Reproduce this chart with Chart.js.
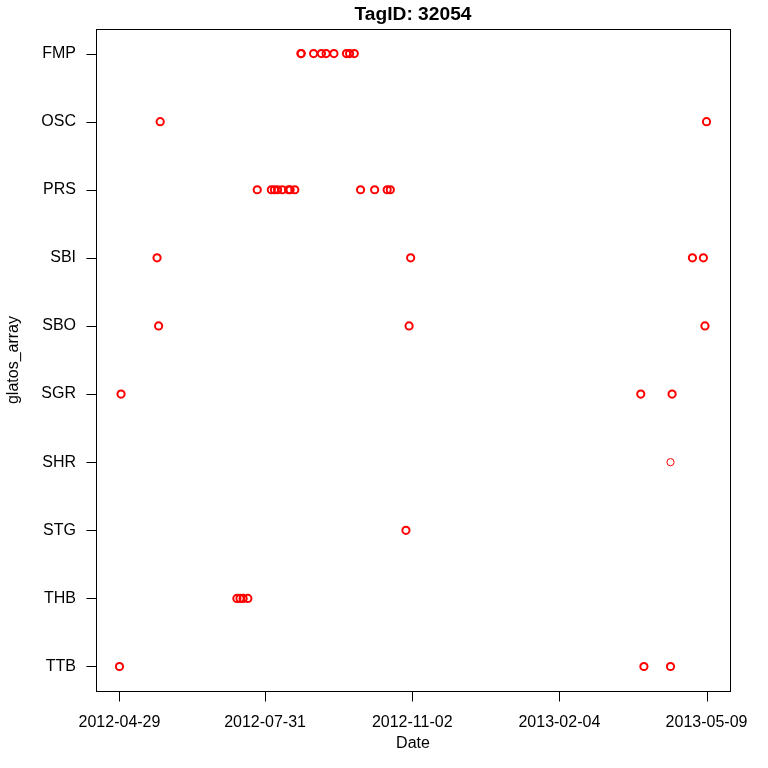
<!DOCTYPE html>
<html>
<head>
<meta charset="utf-8">
<script src="https://cdn.jsdelivr.net/npm/chart.js@4"></script>
<style>
html,body{margin:0;padding:0;background:#fff;}
#wrap{width:768px;height:768px;}
</style>
</head>
<body>
<div id="wrap"><canvas id="c" width="768" height="768"></canvas></div>
<script>
const categories = ['FMP','OSC','PRS','SBI','SBO','SGR','SHR','STG','THB','TTB'];
const xTickDates = ['2012-04-29','2012-07-31','2012-11-02','2013-02-04','2013-05-09'];
const titleText = 'TagID: 32054';
const xTitle = 'Date';
const yTitle = 'glatos_array';

const detectionDates = [
  '2012-08-23','2012-08-23','2012-08-31','2012-09-05','2012-09-08','2012-09-13','2012-09-21','2012-09-23','2012-09-26',
  '2012-05-25','2013-05-09',
  '2012-07-26','2012-08-04','2012-08-06','2012-08-08','2012-08-11','2012-08-15','2012-08-16','2012-08-19','2012-09-30','2012-10-09','2012-10-17','2012-10-19',
  '2012-05-23','2012-11-01','2013-04-30','2013-05-07',
  '2012-05-24','2012-10-31','2013-05-08',
  '2012-04-30','2013-03-28','2013-04-17',
  '2013-04-16',
  '2012-10-29',
  '2012-07-13','2012-07-15','2012-07-17','2012-07-20',
  '2012-04-29','2013-03-30','2013-04-16'
];
const detectionArrays = [
  'FMP','FMP','FMP','FMP','FMP','FMP','FMP','FMP','FMP',
  'OSC','OSC',
  'PRS','PRS','PRS','PRS','PRS','PRS','PRS','PRS','PRS','PRS','PRS','PRS',
  'SBI','SBI','SBI','SBI',
  'SBO','SBO','SBO',
  'SGR','SGR','SGR',
  'SHR',
  'STG',
  'THB','THB','THB','THB',
  'TTB','TTB','TTB'
];

const toMs = s => Date.parse(s + 'T00:00:00Z');
const points = detectionDates.map((d, i) => ({x: toMs(d), y: categories.indexOf(detectionArrays[i]), arr: detectionArrays[i]}));
const xs = points.map(p => p.x);
const xMinD = Math.min(...xs), xMaxD = Math.max(...xs);
const xr = xMaxD - xMinD;
const yr = categories.length - 1;

const fmt = v => { const d = new Date(v); const p = n => String(n).padStart(2,'0'); return d.getUTCFullYear()+'-'+p(d.getUTCMonth()+1)+'-'+p(d.getUTCDate()); };

const TICK_LEN = 10;
const boxPlugin = {
  id: 'box',
  afterDraw(chart) {
    const a = chart.chartArea, ctx = chart.ctx;
    const L = Math.round(a.left) + 0.5, T = Math.round(a.top) + 0.5;
    const R = Math.round(a.right) + 0.5, B = Math.round(a.bottom) + 0.5;
    ctx.save();
    ctx.strokeStyle = '#000';
    ctx.lineWidth = 1;
    ctx.strokeRect(L, T, R - L, B - T);
    ctx.beginPath();
    chart.scales.y.ticks.forEach(t => {
      const y = Math.round(chart.scales.y.getPixelForValue(t.value)) + 0.5;
      ctx.moveTo(L - TICK_LEN, y); ctx.lineTo(L, y);
    });
    chart.scales.x.ticks.forEach(t => {
      const x = Math.round(chart.scales.x.getPixelForValue(t.value)) + 0.5;
      ctx.moveTo(x, B); ctx.lineTo(x, B + TICK_LEN);
    });
    ctx.stroke();
    ctx.restore();
  }
};

const FONT = "'Liberation Sans', Arial, sans-serif";
Chart.defaults.font.family = FONT;
Chart.defaults.color = '#000';

new Chart(document.getElementById('c'), {
  type: 'scatter',
  data: {
    datasets: [{
      data: points,
      borderColor: '#ff0000',
      backgroundColor: 'rgba(0,0,0,0)',
      pointRadius: 3.6,
      pointHoverRadius: 3.6,
      pointBorderWidth: ctx => (ctx.raw && ctx.raw.arr === 'SHR') ? 1 : 2
    }]
  },
  options: {
    responsive: false,
    animation: false,
    devicePixelRatio: 1,
    layout: { padding: { left: 0, right: 38, top: 0, bottom: 0 } },
    plugins: {
      legend: { display: false },
      tooltip: { enabled: false },
      title: {
        display: true,
        text: titleText,
        fullSize: false,
        font: { family: FONT, size: 19.2, weight: 'bold' },
        color: '#000',
        padding: { top: 3, bottom: 3 }
      }
    },
    scales: {
      x: {
        type: 'linear',
        min: xMinD - 0.04 * xr,
        max: xMaxD + 0.04 * xr,
        afterBuildTicks: s => { s.ticks = xTickDates.map(d => ({ value: toMs(d) })); },
        afterFit: s => { s.height = 77; },
        ticks: {
          callback: v => fmt(v),
          font: { family: FONT, size: 16 },
          color: '#000',
          padding: 12,
          maxRotation: 0,
          autoSkip: false
        },
        grid: { display: true, drawOnChartArea: false, drawTicks: true, tickLength: 10, color: 'rgba(0,0,0,0)', tickColor: 'rgba(0,0,0,0)' },
        border: { display: false },
        title: { display: true, text: xTitle, font: { family: FONT, size: 16 }, color: '#000', padding: { top: 2, bottom: 15 } }
      },
      y: {
        type: 'linear',
        reverse: true,
        min: -0.04 * yr,
        max: yr + 0.04 * yr,
        afterBuildTicks: s => { s.ticks = categories.map((c, i) => ({ value: i })); },
        afterFit: s => { s.width = 96; },
        ticks: {
          callback: v => categories[v],
          font: { family: FONT, size: 16 },
          color: '#000',
          padding: 10,
          autoSkip: false
        },
        grid: { display: true, drawOnChartArea: false, drawTicks: true, tickLength: 10, color: 'rgba(0,0,0,0)', tickColor: 'rgba(0,0,0,0)' },
        border: { display: false },
        title: { display: true, text: yTitle, font: { family: FONT, size: 16 }, color: '#000', padding: { top: 4, bottom: 4 } }
      }
    }
  },
  plugins: [boxPlugin]
});
</script>
</body>
</html>
